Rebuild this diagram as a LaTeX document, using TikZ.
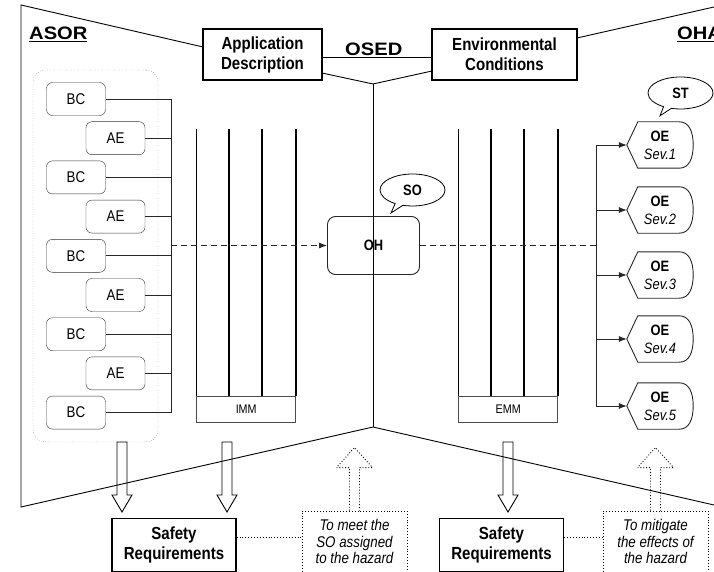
\documentclass[tikz,border=0pt]{standalone}
\usepackage{fontspec}
\setmainfont[FakeStretch=0.86]{Liberation Sans}
\newfontfamily\titlefont[FakeStretch=1.12]{Liberation Sans}
\usetikzlibrary{positioning,calc,shapes.callouts,arrows.meta}

\tikzset{
  outline/.style={draw=black, line width=0.9pt},
  labelbox/.style={draw, line width=1.2pt, align=center, inner sep=0pt, minimum height=51, font=\fontsize{17.5}{20}\selectfont\bfseries},
  heading/.style={anchor=base west, inner sep=0pt, font=\titlefont\fontsize{18}{20}\selectfont\bfseries},
  group/.style={draw=black!70, dotted, rounded corners=12pt, minimum width=125, minimum height=372},
  elem/.style={draw=black!80, rounded corners=6pt, minimum width=59, minimum height=33, inner sep=0pt, font=\fontsize{15.5}{18}\selectfont},
  bus/.style={draw=black!85, line width=0.8pt},
  dashline/.style={draw=black!85, line width=0.9pt, dash pattern=on 6pt off 4pt},
  hazard/.style={draw=black!85, rounded corners=8pt, line width=0.9pt, minimum width=92, minimum height=58, font=\fontsize{15}{17}\selectfont\bfseries},
  bubble/.style={ellipse callout, draw, line width=0.8pt, minimum width=65, minimum height=32, inner sep=0pt, font=\fontsize{15}{17}\selectfont\bfseries},
  rail/.style={line width=1.5pt},
  mmbox/.style={draw=black!70, line width=0.8pt, minimum width=99, minimum height=26, inner sep=0pt, font=\fontsize{12.5}{14}\selectfont},
  oe/.style={minimum width=66, minimum height=46, inner sep=0pt, align=center, font=\fontsize{15}{18}\selectfont},
  oeline/.style={draw=black!85, line width=0.9pt},
  blockarrow/.style={draw, line width=0.9pt},
  dotarrow/.style={draw, dotted, line width=0.9pt},
  note/.style={draw, dotted, line width=0.9pt, align=center, inner sep=0pt, minimum width=105, minimum height=61, font=\fontsize{15.5}{16.5}\selectfont\itshape},
}

\begin{document}
\begin{tikzpicture}[x=1pt,y=-1pt]
\clip (0,0) rectangle (714,572);

% top boxes and headings
\node[labelbox, minimum width=119] (appdesc) at (262.5,54.5) {Application\\Description};
\node[labelbox, minimum width=145] (envcond) at (504.5,54.5) {Environmental\\Conditions};
\node[heading] (asor) at (29,40) {\underline{ASOR}};
\node[heading] (osed) at (345,55.5) {\underline{OSED}};
\node[heading] (oha) at (677,40) {\underline{OHA}};

% outline of the three areas
\draw[outline] (203,47) -- (21,5) -- (21,507) -- (373,427) -- (714,505);
\draw[outline] (322,73) -- (373,84) -- (432,71);
\draw[outline] (373,84) -- (373,427);
\draw[outline] (577,38) -- (714,7);
\draw[outline] ([yshift=-2.5pt]appdesc.east) -- ([yshift=-2.5pt]envcond.west);

% ASOR elements
\node[group] (asorbox) at (95.5,256) {};
\foreach \i/\lbl/\x in {1/BC/76,2/AE/115.5,3/BC/76,4/AE/115.5,5/BC/76,6/AE/115.5,7/BC/76,8/AE/115.5,9/BC/76}
  \node[elem] (e\i) at (\x,{99+39.2*(\i-1)}) {\lbl};
\coordinate (bustop) at (171,99);
\coordinate (busbot) at (171,412.6);
\draw[bus] (bustop) -- (busbot);
\foreach \i in {1,...,9}
  \draw[bus] (e\i.east) -- (e\i.east -| bustop);

% IMM and EMM
\node[mmbox] (imm) at (246.2,409.3) {IMM};
\node[mmbox] (emm) at (508.2,409.3) {EMM};
\foreach \f in {0,0.33,0.66,1} {
  \draw[rail] ($(imm.north west)!\f!(imm.north east)$) -- ++(0,-267);
  \draw[rail] ($(emm.north west)!\f!(emm.north east)$) -- ++(0,-267);
}

% hazard
\node[hazard] (oh) at (373.5,245.5) {OH};
\coordinate (tap) at (171,245.5);
\coordinate (oebus) at (596,145);
\draw[dashline,-{Latex[length=8pt,width=6pt]}] (tap) -- (oh.west);
\draw[dashline] (oh.east) -- (oh.east -| oebus);
\node[bubble, callout absolute pointer={(391,213)}] (so) at (412.5,190) {SO};

% OHA effects
\foreach \i/\y in {1/145,2/210,3/275,4/339,5/406} {
  \node[oe] (oe\i) at (660,\y) {\textbf{OE}\\\textit{Sev.\i}};
  \draw[oeline] (oe\i.west) -- ([xshift=11pt]oe\i.north west) -- ([xshift=-14pt]oe\i.north east)
    .. controls ([xshift=-4pt]oe\i.north east) and ([yshift=-10pt]oe\i.north east) .. (oe\i.east)
    .. controls ([yshift=10pt]oe\i.south east) and ([xshift=-4pt]oe\i.south east) .. ([xshift=-14pt]oe\i.south east)
    -- ([xshift=11pt]oe\i.south west) -- cycle;
  \draw[bus,-{Latex[length=8pt,width=6pt]}] (oe\i.west -| oebus) -- (oe\i.west);
}
\draw[bus] (oebus) -- (oebus |- oe5.west);
\node[bubble, callout absolute pointer={([yshift=6pt]oe1.north)}] (st) at (680.5,93) {ST};

% safety requirements
\node[labelbox, minimum width=124, minimum height=53] (sr1) at (174,545) {Safety\\Requirements};
\node[labelbox, minimum width=124, minimum height=53] (sr2) at (501.5,545) {Safety\\Requirements};
\node[note] (note1) at (354.5,541.5) {To meet the\\SO assigned\\to the hazard};
\node[note] (note2) at (655.5,541.5) {To mitigate\\the effects of\\the hazard};
\draw[dotarrow] ([yshift=8pt]sr1.east) -- ([yshift=8pt]sr1.east -| note1.west);
\draw[dotarrow] ([yshift=8pt]sr2.east) -- ([yshift=8pt]sr2.east -| note2.west);

% block arrows
\foreach \x in {117,222,503}
  \draw[blockarrow] (\x,442) -- ++(10,0) -- ++(0,53) -- ++(5,0) -- ++(-10,17) -- ++(-10,-17) -- ++(5,0) -- cycle;
\foreach \n in {note1,note2}
  \draw[dotarrow] ([xshift=-5pt]\n.north) -- ++(0,-43) -- ++(-13,0) -- ++(18,-20) -- ++(18,20) -- ++(-13,0) -- ++(0,43);
\end{tikzpicture}
\end{document}
